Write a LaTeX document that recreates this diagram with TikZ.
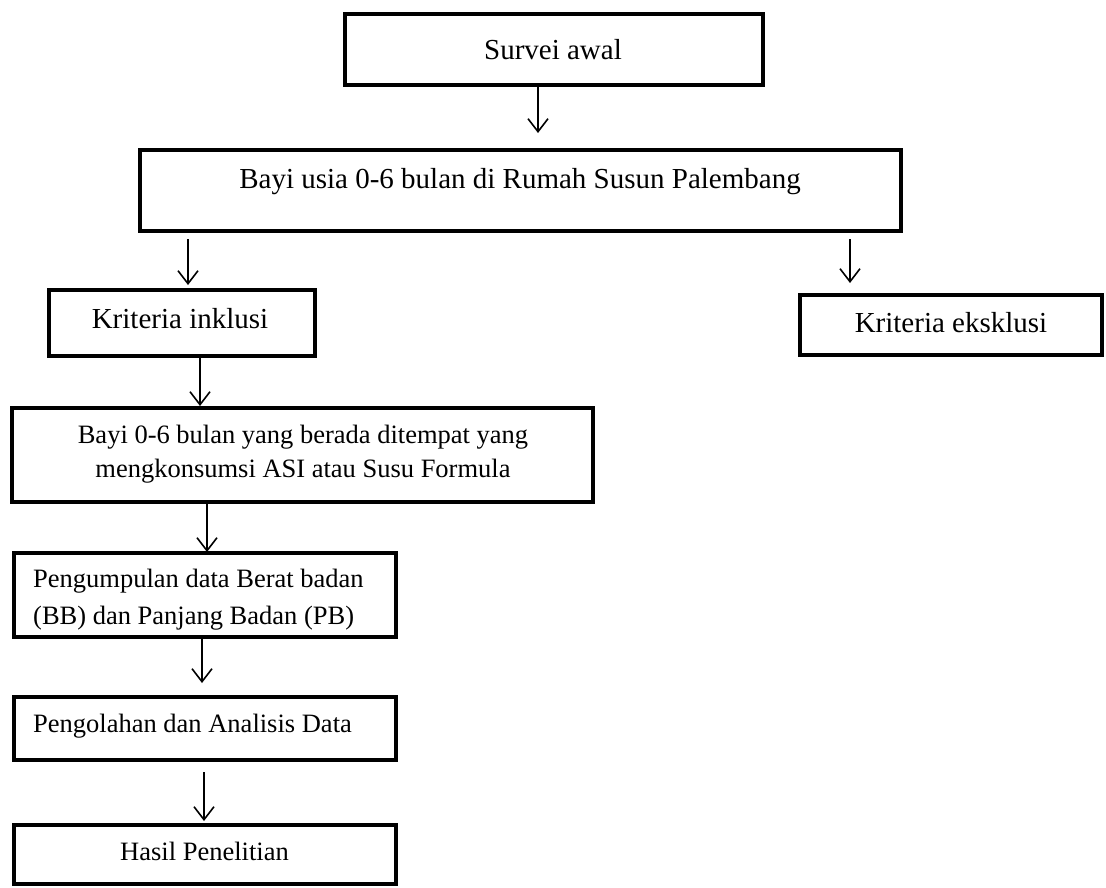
\documentclass[tikz,border=0pt]{standalone}
\usepackage{fontspec}
\setmainfont{Liberation Serif}
\usetikzlibrary{arrows.meta}
\begin{document}
\begin{tikzpicture}[x=1pt,y=-1pt,
  box/.style={draw, line width=3.5pt, inner sep=0pt, outer sep=0pt},
  big/.style={font=\fontsize{29}{34}\selectfont, inner sep=0pt},
  small/.style={font=\fontsize{26.5}{34}\selectfont, inner sep=0pt},
  arr/.style={-{Straight Barb[length=13pt,width=20pt,line width=1.6pt]}, line width=1.6pt}]
\useasboundingbox (0,0) rectangle (1106,887);
% boxes
\node[box, minimum width=418pt, minimum height=71pt] (survei) at (554,49.5) {};
\node[box, minimum width=761pt, minimum height=81pt] (usia) at (520.5,190.5) {};
\node[box, minimum width=266pt, minimum height=66pt] (inklusi) at (182,323) {};
\node[box, minimum width=302pt, minimum height=60pt] (eksklusi) at (951,325) {};
\node[box, minimum width=581pt, minimum height=94pt] (bayi) at (302.5,455) {};
\node[box, minimum width=382pt, minimum height=84pt] (kumpul) at (205,595) {};
\node[box, minimum width=382pt, minimum height=63pt] (olah) at (205,728.5) {};
\node[box, minimum width=382pt, minimum height=59pt] (hasil) at (205,854.5) {};
% texts
\node[big] (tsurvei) at (553,50) {Survei awal};
\node[big, anchor=base] (tusia) at (520,188) {Bayi usia 0-6 bulan di Rumah Susun Palembang};
\node[big, anchor=base] (tinklusi) at (180,328) {Kriteria inklusi};
\node[big, anchor=base] (teksklusi) at (951,332) {Kriteria eksklusi};
\node[small, align=center] (tbayi) at (303,454) {Bayi 0-6 bulan yang berada ditempat yang\\mengkonsumsi ASI atau Susu Formula};
\node[small, font=\fontsize{26.5}{37}\selectfont, align=left, anchor=west] (tkumpul) at (33,600) {Pengumpulan data Berat badan\\(BB) dan Panjang Badan (PB)};
\node[small, anchor=base west] (tolah) at (33,732) {Pengolahan dan Analisis Data};
\node[small, anchor=base] (thasil) at (204.5,860) {Hasil Penelitian};
% arrow x positions
\coordinate (a1) at (538,0);
\coordinate (a2) at (188,0);
\coordinate (a3) at (850,0);
\coordinate (a4) at (200,0);
\coordinate (a5) at (207,0);
\coordinate (a6) at (202,0);
\coordinate (a7) at (204,0);
% connectors
\draw[arr, shorten >=17pt] (survei.south -| a1) -- (usia.north -| a1);
\draw[arr, shorten <=8pt, shorten >=5pt] (usia.south -| a2) -- (inklusi.north -| a2);
\draw[arr, shorten <=8pt, shorten >=12pt] (usia.south -| a3) -- (eksklusi.north -| a3);
\draw[arr, shorten >=2pt] (inklusi.south -| a4) -- (bayi.north -| a4);
\draw[arr, shorten >=1pt] (bayi.south -| a5) -- (kumpul.north -| a5);
\draw[arr, shorten >=14pt] (kumpul.south -| a6) -- (olah.north -| a6);
\draw[arr, shorten <=12pt, shorten >=4pt] (olah.south -| a7) -- (hasil.north -| a7);
\end{tikzpicture}
\end{document}
